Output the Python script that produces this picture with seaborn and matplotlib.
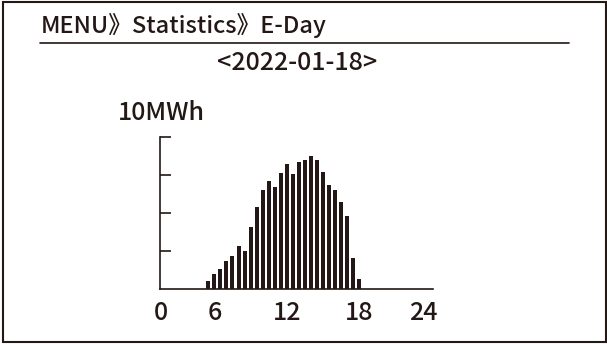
import matplotlib
matplotlib.use("Agg")
import matplotlib.pyplot as plt
import matplotlib.patches as patches
import matplotlib.lines as mlines
import seaborn as sns

# half-hour slots (hours) and daily energy (MWh, axis top = 10)
hours = [5.5 + 0.5 * i for i in range(26)]
energy = [0.53, 0.99, 1.32, 1.84, 2.17, 2.83, 2.50, 4.08, 5.39, 6.51,
          7.10, 6.71, 7.63, 8.22, 7.57, 8.36, 8.49, 8.75, 8.49, 7.70,
          6.84, 6.51, 5.72, 4.80, 2.04, 0.66]
tick_pos = [1.6, 6, 12, 18, 23.3]
tick_labels = ["0", "6", "12", "18", "24"]

title = "MENU》Statistics》E-Day"
date_label = "<2022-01-18>"
unit_label = "10MWh"

ink = "#231815"
W, H = 607, 344

sns.set_theme(style="white")
plt.rcParams["font.family"] = ["Noto Sans CJK JP", "DejaVu Sans"]
plt.rcParams["font.weight"] = "medium"

fig = plt.figure(figsize=(W / 100, H / 100), dpi=100)
ax = fig.add_axes([160 / W, 1 - 289 / H, 273 / W, 152 / H])

sns.barplot(x=hours, y=energy, native_scale=True, width=0.66,
            color=ink, saturation=1, linewidth=0, ax=ax)

ax.set_xlim(1.5, 24.1)
ax.set_ylim(0, 10)
ax.set_xticks(tick_pos)
ax.set_xticklabels(tick_labels, fontsize=18, color=ink, fontweight="medium")
ax.set_yticks([2.5, 5, 7.5, 10])
ax.set_yticklabels([])
ax.tick_params(axis="x", length=0, pad=8)
ax.tick_params(axis="y", direction="in", length=8, width=1.2, color=ink, left=True)
for side in ["top", "right"]:
    ax.spines[side].set_visible(False)
for side in ["left", "bottom"]:
    ax.spines[side].set_color(ink)
    ax.spines[side].set_linewidth(1.2)
ax.set_facecolor("none")

# header texts
fig.text(41 / W, 1 - 33.5 / H, title, fontsize=17, color=ink, va="baseline", ha="left")
fig.text(297 / W, 1 - 70 / H, date_label, fontsize=18, color=ink, va="baseline", ha="center")
fig.text(161 / W, 1 - 120 / H, unit_label, fontsize=18, color=ink, va="baseline", ha="center")

# rule under header and outer frame
fig.add_artist(mlines.Line2D([40 / W, 569 / W], [1 - 43 / H, 1 - 43 / H],
                             transform=fig.transFigure, color=ink, lw=1.2))
fig.add_artist(patches.Rectangle((2.5 / W, 1 - 342 / H), 603 / W, 340.5 / H,
                                 transform=fig.transFigure, fill=False,
                                 edgecolor=ink, lw=1.5))

fig.savefig("out.png", dpi=100)
